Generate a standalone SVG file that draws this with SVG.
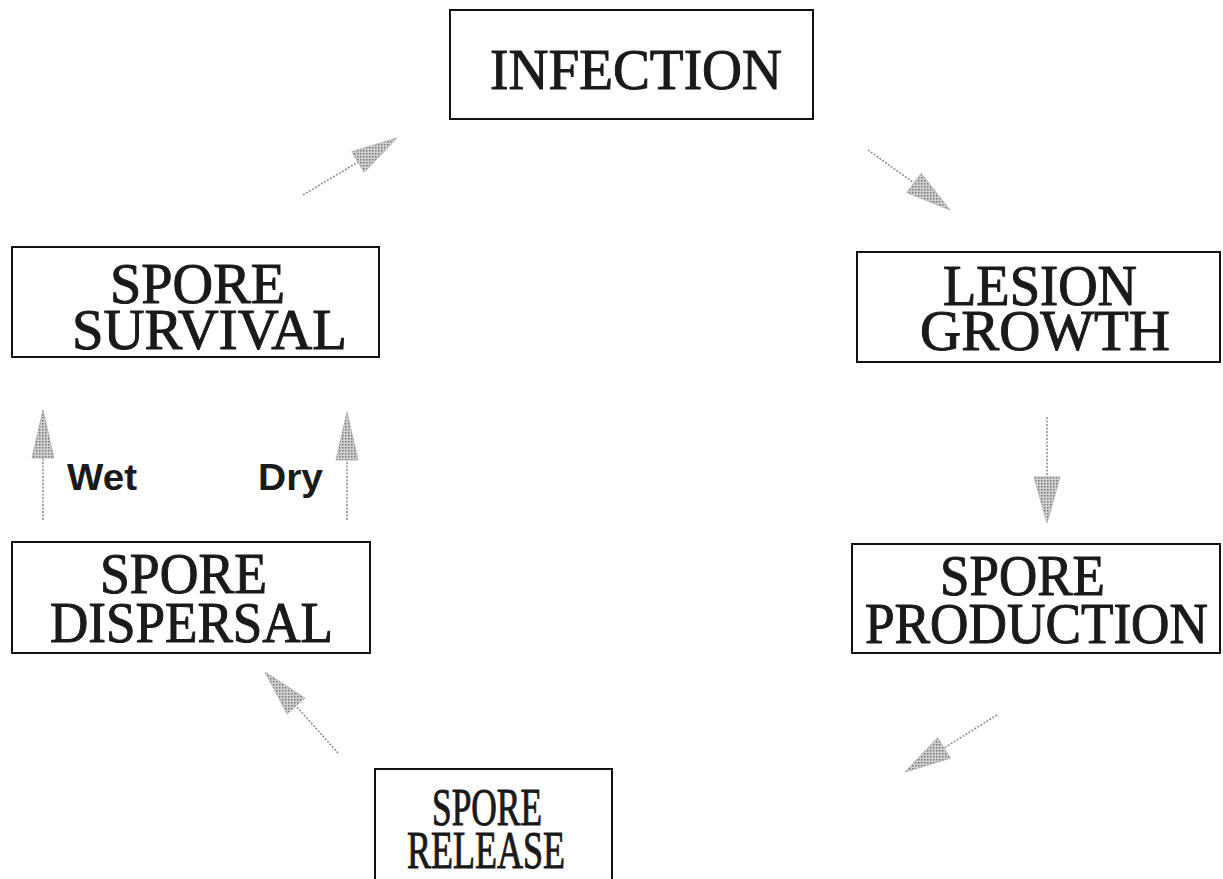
<svg xmlns="http://www.w3.org/2000/svg" width="1223" height="879" viewBox="0 0 1223 879">
<defs>
<pattern id="stip" width="3" height="3" patternUnits="userSpaceOnUse">
<rect width="3" height="3" fill="#d0d0d0"/>
<rect width="1.5" height="1.5" fill="#777"/>
</pattern>
<style>
.box{fill:#fff;stroke:#111;stroke-width:2}
.lbl{font-family:"Liberation Serif","Times New Roman",serif;fill:#1a1a1a;stroke:#1a1a1a;stroke-width:1}
.cond{font-family:"Liberation Sans",Arial,sans-serif;font-weight:bold;fill:#1a1a1a;font-size:36px}
.ln{stroke:#8a8a8a;stroke-width:1.5;stroke-dasharray:2 1.5;fill:none}
.hd{fill:url(#stip);stroke:#aaa;stroke-width:0.8}
</style>
</defs>
<rect width="1223" height="879" fill="#fff"/>
<g id="connectors">
<line class="ln" x1="303" y1="195" x2="358" y2="162"/>
<polygon class="hd" points="397,138 364.2,172.3 351.8,151.7"/>
<line class="ln" x1="868" y1="150" x2="914" y2="183"/>
<polygon class="hd" points="950,210 906.8,192.6 921.2,173.4"/>
<line class="ln" x1="1047" y1="417" x2="1047" y2="477"/>
<polygon class="hd" points="1047,523 1034,477 1060,477"/>
<line class="ln" x1="997" y1="715" x2="944" y2="748"/>
<polygon class="hd" points="905,772 950.4,758.2 937.6,737.8"/>
<line class="ln" x1="338" y1="753" x2="296" y2="706"/>
<polygon class="hd" points="265,672 304.9,698 287.1,714"/>
<line class="ln" x1="43" y1="520" x2="43" y2="458"/>
<polygon class="hd" points="43,410 32,458 54,458"/>
<line class="ln" x1="347" y1="520" x2="347" y2="460"/>
<polygon class="hd" points="347,412 336,460 358,460"/>
<text class="cond" x="67" y="490" textLength="70" lengthAdjust="spacingAndGlyphs">Wet</text>
<text class="cond" x="258" y="490" textLength="65" lengthAdjust="spacingAndGlyphs">Dry</text>
</g>
<g id="infection">
<rect class="box" x="450" y="10" width="363" height="109"/>
<text class="lbl" x="490" y="89" font-size="57" textLength="292" lengthAdjust="spacingAndGlyphs">INFECTION</text>
</g>
<g id="lesion-growth">
<rect class="box" x="857" y="252" width="363" height="110"/>
<text class="lbl" x="943" y="305" font-size="56" textLength="194" lengthAdjust="spacingAndGlyphs">LESION</text>
<text class="lbl" x="920" y="350" font-size="56" textLength="250" lengthAdjust="spacingAndGlyphs">GROWTH</text>
</g>
<g id="spore-production">
<rect class="box" x="852" y="544" width="368" height="109"/>
<text class="lbl" x="940" y="595" font-size="56" textLength="165" lengthAdjust="spacingAndGlyphs">SPORE</text>
<text class="lbl" x="865" y="643" font-size="56" textLength="343" lengthAdjust="spacingAndGlyphs">PRODUCTION</text>
</g>
<g id="spore-release">
<rect class="box" x="375" y="769" width="237" height="125"/>
<text class="lbl" x="432" y="825" font-size="52" textLength="110" lengthAdjust="spacingAndGlyphs">SPORE</text>
<text class="lbl" x="407" y="868" font-size="52" textLength="158" lengthAdjust="spacingAndGlyphs">RELEASE</text>
</g>
<g id="spore-dispersal">
<rect class="box" x="12" y="542" width="358" height="111"/>
<text class="lbl" x="100" y="593" font-size="56" textLength="167" lengthAdjust="spacingAndGlyphs">SPORE</text>
<text class="lbl" x="50" y="642" font-size="56" textLength="283" lengthAdjust="spacingAndGlyphs">DISPERSAL</text>
</g>
<g id="spore-survival">
<rect class="box" x="12" y="247" width="367" height="110"/>
<text class="lbl" x="110" y="303" font-size="56" textLength="175" lengthAdjust="spacingAndGlyphs">SPORE</text>
<text class="lbl" x="72" y="349" font-size="56" textLength="275" lengthAdjust="spacingAndGlyphs">SURVIVAL</text>
</g>
</svg>
